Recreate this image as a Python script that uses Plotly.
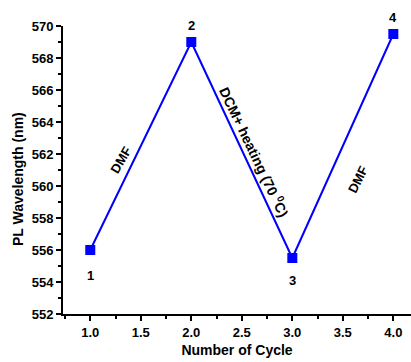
import plotly.graph_objects as go

# PL emission wavelength over solvent-treatment cycles
cycles = [1, 2, 3, 4]
wavelength = [556.0, 569.0, 555.5, 569.5]
point_labels = ["1", "2", "3", "4"]
label_shift = [-25, 17, -22, 17]  # px offset of each cycle number from its marker

# Treatment notes placed along each segment
step_text = ["DMF", "DCM+ heating (70 <sup>0</sup>C)", "DMF"]
step_x = [1.30, 2.625, 3.65]
step_y = [561.6, 562.1, 560.4]
step_angle = [-60, 64.5, -64]
step_size = [13, 14, 13]

x_ticks = [1.0, 1.5, 2.0, 2.5, 3.0, 3.5, 4.0]
y_ticks = list(range(552, 571, 2))

FONT = "Liberation Sans, Arial, sans-serif"
BLUE = "#0000FF"

fig = go.Figure()
fig.add_trace(go.Scatter(
    x=cycles, y=wavelength, mode="lines+markers",
    line=dict(color=BLUE, width=2),
    marker=dict(symbol="square", size=10, color=BLUE),
    cliponaxis=False, showlegend=False,
))

for x, y, t, s in zip(cycles, wavelength, point_labels, label_shift):
    fig.add_annotation(x=x, y=y, text=t, showarrow=False, yshift=s,
                       font=dict(family=FONT, size=13, color="black", weight="bold"))

for x, y, t, a, fs in zip(step_x, step_y, step_text, step_angle, step_size):
    fig.add_annotation(x=x, y=y, text=t, showarrow=False, textangle=a,
                       font=dict(family=FONT, size=fs, color="black", weight="bold"))

# y-axis title drawn as a rotated paper-anchored label
fig.add_annotation(xref="paper", yref="paper", x=-45 / 348, y=135 / 288,
                   xanchor="center", yanchor="middle",
                   text="PL Wavelength (nm)", showarrow=False, textangle=-90,
                   font=dict(family=FONT, size=14, color="black", weight="bold"))

axis_common = dict(
    showline=True, linecolor="black", linewidth=2,
    ticks="outside", ticklen=5, tickwidth=1.5, tickcolor="black",
    showgrid=False, zeroline=False, mirror=False,
    tickfont=dict(family=FONT, size=13, color="black", weight="bold"),
)

fig.update_xaxes(
    range=[0.73, 4.175], tickvals=x_ticks,
    ticktext=[f"{v:.1f}" for v in x_ticks],
    minor=dict(ticks="outside", ticklen=3, tickwidth=1.5, tickcolor="black", dtick=0.25),
    title=dict(text="Number of Cycle", standoff=7,
               font=dict(family=FONT, size=14, color="black", weight="bold")),
    **axis_common,
)
fig.update_yaxes(
    range=[552, 570], tickvals=y_ticks,
    minor=dict(ticks="outside", ticklen=3, tickwidth=1.5, tickcolor="black", dtick=1),
    **axis_common,
)

fig.update_layout(
    width=411, height=362,
    margin=dict(l=63, r=0, t=26, b=48),
    paper_bgcolor="white", plot_bgcolor="white",
)

fig.write_html("out.html")
